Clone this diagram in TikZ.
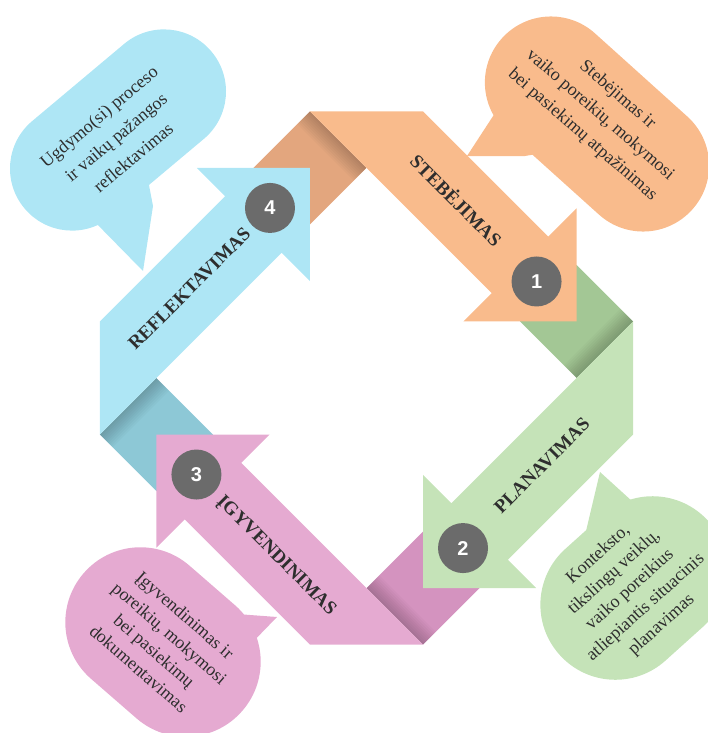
\documentclass[tikz,border=0pt]{standalone}
\usepackage{fontspec}
\setmainfont{Liberation Serif}
\newfontfamily\numfont{Liberation Sans}
\definecolor{orL}{HTML}{F9BB8C}
\definecolor{orD}{HTML}{E3A67E}
\definecolor{grL}{HTML}{C5E3B8}
\definecolor{grD}{HTML}{A3C795}
\definecolor{piL}{HTML}{E5AAD1}
\definecolor{piD}{HTML}{D493BF}
\definecolor{blL}{HTML}{AEE6F5}
\definecolor{blD}{HTML}{8DC8D6}
\definecolor{numgray}{HTML}{6B6B6B}
\definecolor{txt}{HTML}{2E2E2E}
\newcommand\foldsquare[2]{%
  \begin{scope}[shift={(C)},rotate=#1]
    \fill[#2] (-228.5,-148.5) rectangle (-148.5,-68.5);
    \foreach \i in {1,...,9}{
      \fill[black,opacity=0.022] (-228.5,-148.5) rectangle (-148.5,-148.5+2*\i);
    }
  \end{scope}}
\newcommand\ribbonband[2]{%
  \begin{scope}[shift={(C)},rotate=#1]
    \fill[#2] (-228.5,-148.5) -- (-148.5,-228.5) -- (28.5,-228.5) -- (28.5,-268.5)
      -- (108.5,-188.5) -- (28.5,-108.5) -- (28.5,-148.5) -- cycle;
  \end{scope}}
\tikzset{
  numc/.style={circle,fill=numgray,minimum size=50pt,inner sep=0pt,text=white,font=\numfont\bfseries\fontsize{20}{22}\selectfont},
  lbl/.style={text=txt,font=\bfseries\fontsize{19}{21}\selectfont,inner sep=0pt},
  btxt/.style={text=txt,font=\fontsize{18}{21.6}\selectfont,align=center,inner sep=0pt}
}
\begin{document}
\begin{tikzpicture}[x=1pt,y=-1pt]
\useasboundingbox (0,0) rectangle (708,733);
\coordinate (C) at (366.5,378);
% fold squares
\foldsquare{-45}{orD}
\foldsquare{-135}{grD}
\foldsquare{135}{piD}
\foldsquare{45}{blD}
% ribbon arrows
\ribbonband{-45}{orL}
\ribbonband{-135}{grL}
\ribbonband{135}{piL}
\ribbonband{45}{blL}
% numbers and labels
\begin{scope}[shift={(C)},rotate=-45]
  \node[numc] (n1) at (52,-188.5) {1};
  \node[lbl,rotate=-45] (l1) at (-62,-190) {STEBĖJIMAS};
\end{scope}
\begin{scope}[shift={(C)},rotate=-135]
  \node[numc] (n2) at (52,-188.5) {2};
  \node[lbl,rotate=45] (l2) at (-62,-186) {PLANAVIMAS};
\end{scope}
\begin{scope}[shift={(C)},rotate=135]
  \node[numc] (n3) at (52,-188.5) {3};
  \node[lbl,rotate=-45] (l3) at (-62,-190) {ĮGYVENDINIMAS};
\end{scope}
\begin{scope}[shift={(C)},rotate=45]
  \node[numc] (n4) at (52,-188.5) {4};
  \node[lbl,rotate=45] (l4) at (-62,-188.5) {REFLEKTAVIMAS};
\end{scope}
% bubbles
\fill[orL,shift={(597,124)},rotate=-42,rounded corners=65.9pt] (-128,-66) rectangle (128,66);
\fill[orL] (497,110) -- (467,156) -- (525,156) -- (560,150) -- cycle;
\node[btxt,rotate=-41] (b1) at (600,115) {Stebėjimas ir\\[5pt]vaiko poreikių, mokymosi\\[5pt]bei pasiekimų atpažinimas};

\fill[blL,shift={(118,130)},rotate=40,rounded corners=61.9pt] (-122,-62) rectangle (122,62);
\fill[blL] (90,217) -- (143,271) -- (153,206) -- (148,180) -- cycle;
\node[btxt,rotate=40] (b4) at (116,137) {Ugdymo(si) proceso\\[5pt]ir vaikų pažangos\\[5pt]reflektavimas};

\fill[grL,shift={(634,588)},rotate=42,rounded corners=74.9pt] (-100,-75) rectangle (100,75);
\fill[grL] (600,472) -- (633,502) -- (582,548) -- cycle;
\node[btxt,rotate=42] (b2) at (630,590) {Konteksto,\\[2pt]tikslingų veiklų,\\[2pt]vaiko poreikius\\[2pt]atliepiantis situacinis\\[2pt]planavimas};

\fill[piL,shift={(163,642)},rotate=-41,rounded corners=74.9pt] (-105,-75) rectangle (105,75);
\fill[piL] (210,612) -- (277,617) -- (245,650) -- (200,640) -- cycle;
\node[btxt,rotate=-41] (b3) at (162,642) {Įgyvendinimas ir\\[2pt]poreikių, mokymosi\\[2pt]bei pasiekimų\\[2pt]dokumentavimas};
\end{tikzpicture}
\end{document}
